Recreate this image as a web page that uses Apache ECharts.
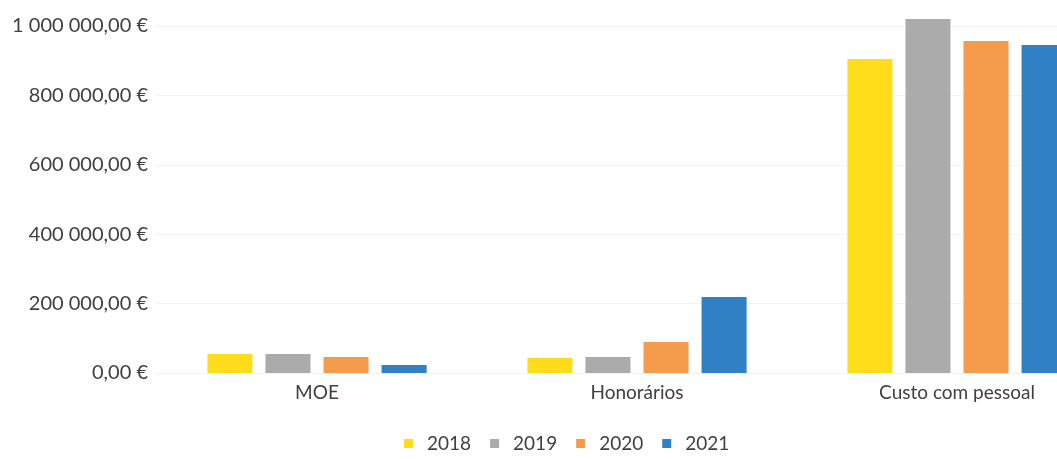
<!DOCTYPE html>
<html>
<head>
<meta charset="utf-8">
<script src="https://cdn.jsdelivr.net/npm/echarts@6/dist/echarts.min.js"></script>
<style>
  html, body { margin: 0; padding: 0; background: #fff; overflow: hidden; }
  /* o gráfico original está cortado à direita: a tela é mais larga que a janela */
  #chart { width: 1125px; height: 459px; }
</style>
</head>
<body>
<div id="chart"></div>
<script>
// Categorias e valores
const categories = ['MOE', 'Honorários', 'Custo com pessoal'];
const years = ['2018', '2019', '2020', '2021'];
const values2018 = [55000, 43000, 905000];
const values2019 = [55000, 46000, 1020000];
const values2020 = [46000, 89000, 957000];
const values2021 = [23000, 219000, 945000];
const yTicks = [0, 200000, 400000, 600000, 800000, 1000000];

const colors = ['#FFDD1A', '#ABABAB', '#F59B4C', '#2F80C4'];
const seriesValues = [values2018, values2019, values2020, values2021];

// formato pt-PT: espaços nos milhares, vírgula decimal
function formatEuro(v) {
    const parts = v.toFixed(2).split('.');
    const int = parts[0].replace(/\B(?=(\d{3})+(?!\d))/g, ' ');
    return int + ',' + parts[1] + ' €';
}

const chart = echarts.init(document.getElementById('chart'));

chart.setOption({
    animation: false,
    textStyle: { fontFamily: 'Lato, "Open Sans", sans-serif' },
    color: colors,
    legend: {
        data: years,
        left: 399,
        top: 429,
        itemWidth: 9,
        itemHeight: 9,
        itemGap: 19,
        icon: 'rect',
        textStyle: { fontSize: 19, color: '#404040', padding: [0, 0, 0, 9] }
    },
    grid: {
        left: 157,
        width: 960,
        top: 26,
        bottom: 86,
        containLabel: false
    },
    xAxis: {
        type: 'category',
        data: categories,
        axisLine: { show: false },
        axisTick: { show: false },
        axisLabel: { fontSize: 19, color: '#404040', margin: 10 }
    },
    yAxis: {
        type: 'value',
        min: yTicks[0],
        max: yTicks[yTicks.length - 1],
        interval: 200000,
        axisLine: { show: false },
        axisTick: { show: false },
        axisLabel: {
            fontSize: 20,
            color: '#404040',
            margin: 9,
            formatter: formatEuro
        },
        splitLine: { lineStyle: { color: '#f3f3f3', width: 1 } }
    },
    series: years.map((y, i) => ({
        name: y,
        type: 'bar',
        data: seriesValues[i],
        barWidth: 45,
        barGap: '29%',
        clip: false
    }))
});
</script>
</body>
</html>
